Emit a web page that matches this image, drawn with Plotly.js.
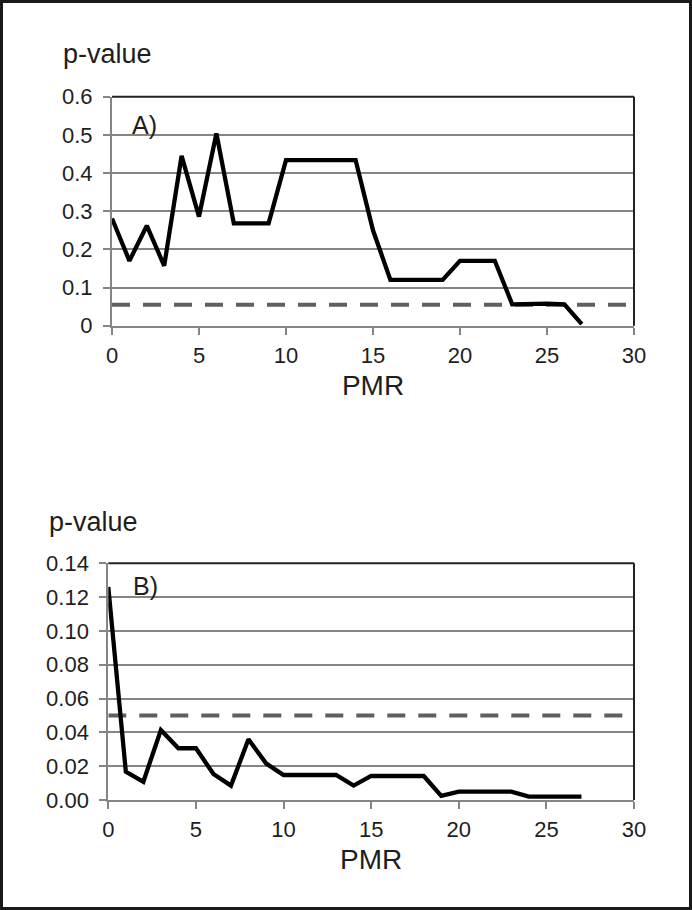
<!DOCTYPE html>
<html>
<head>
<meta charset="utf-8">
<script src="https://cdn.plot.ly/plotly-3.0.1.min.js"></script>
<style>
  html, body { margin: 0; padding: 0; background: #fff; }
  #wrap { position: relative; width: 692px; height: 910px; }
  #chart { width: 692px; height: 910px; }
  #frame { position: absolute; left: 0; top: 0; width: 692px; height: 910px;
           box-sizing: border-box; border: 3px solid #1a1a1a; pointer-events: none; }
</style>
</head>
<body>
<div id="wrap">
  <div id="chart"></div>
  <div id="frame"></div>
</div>
<script>
// ---- Data ----
const pmr = [0,1,2,3,4,5,6,7,8,9,10,11,12,13,14,15,16,17,18,19,20,21,22,23,24,25,26,27];
const pValueA = [0.281,0.170,0.262,0.157,0.445,0.286,0.504,0.268,0.268,0.268,0.434,0.434,0.434,0.434,0.434,0.250,0.120,0.120,0.120,0.120,0.170,0.170,0.170,0.056,0.058,0.058,0.056,0.004];
const pValueB = [0.126,0.0168,0.0108,0.0414,0.0306,0.0306,0.0154,0.0085,0.0359,0.0217,0.0148,0.0148,0.0148,0.0148,0.0085,0.0142,0.0142,0.0142,0.0142,0.0024,0.0049,0.0049,0.0049,0.0049,0.002,0.002,0.002,0.002];
const thresholdAX = [0, 29.7];
const thresholdAY = [0.055, 0.055];
const thresholdBX = [0, 29.4];
const thresholdBY = [0.05, 0.05];
const yTitle = "p-value";
const xTitle = "PMR";
const panelLabels = ["A)", "B)"];

// ---- Layout geometry (pixels) ----
const W = 692, H = 910;
const px = v => v / W;
const py = v => 1 - v / H;

const FONT = "Liberation Sans, Arial, sans-serif";
const TXT = "#1e1e1e";
const GRID = "#858585";

const traces = [
  { x: thresholdAX, y: thresholdAY, xaxis: "x", yaxis: "y", mode: "lines",
    line: { color: "#5f5f5f", width: 4, dash: "18px,13px" }, hoverinfo: "skip" },
  { x: pmr, y: pValueA, xaxis: "x", yaxis: "y", mode: "lines",
    line: { color: "#000", width: 4.3 } },
  { x: thresholdBX, y: thresholdBY, xaxis: "x2", yaxis: "y2", mode: "lines",
    line: { color: "#5f5f5f", width: 4, dash: "18px,13px" }, hoverinfo: "skip" },
  { x: pmr, y: pValueB, xaxis: "x2", yaxis: "y2", mode: "lines",
    line: { color: "#000", width: 4.3 } }
];

function xAxis(domain, anchor) {
  return {
    domain: domain, anchor: anchor, range: [0, 30], dtick: 5, tick0: 0,
    showgrid: false, zeroline: false,
    showline: true, linecolor: GRID, linewidth: 2,
    ticks: "outside", ticklen: 7, tickwidth: 2, tickcolor: GRID,
    ticklabelstandoff: 2,
    tickfont: { family: FONT, size: 22, color: TXT },
    title: { text: xTitle, font: { family: FONT, size: 28, color: TXT }, standoff: 8 },
    fixedrange: true
  };
}
function yAxis(domain, anchor, range, dtick, fmt) {
  return {
    domain: domain, anchor: anchor, range: range, dtick: dtick, tick0: 0,
    tickformat: fmt,
    showgrid: true, gridcolor: GRID, gridwidth: 2,
    zeroline: false,
    showline: true, linecolor: GRID, linewidth: 2,
    ticks: "outside", ticklen: 7, tickwidth: 2, tickcolor: GRID,
    ticklabelstandoff: 6,
    tickfont: { family: FONT, size: 22, color: TXT },
    fixedrange: true
  };
}

const layout = {
  width: W, height: H,
  margin: { l: 0, r: 0, t: 0, b: 0 },
  paper_bgcolor: "#fff", plot_bgcolor: "#fff",
  showlegend: false,
  font: { family: FONT, color: TXT },
  xaxis: xAxis([px(112), px(634)], "y"),
  yaxis: yAxis([py(325.7), py(96.7)], "x", [0, 0.6], 0.1, ""),
  xaxis2: xAxis([px(108.3), px(634)], "y2"),
  yaxis2: yAxis([py(800), py(563.3)], "x2", [0, 0.14], 0.02, ".2f"),
  shapes: [
    // dark top and right frame of each plot area
    { type: "line", xref: "x domain", yref: "y domain", x0: 0, x1: 1, y0: 1, y1: 1, line: { color: "#222", width: 2 } },
    { type: "line", xref: "x domain", yref: "y domain", x0: 1, x1: 1, y0: 0, y1: 1, line: { color: "#222", width: 2 } },
    { type: "line", xref: "x2 domain", yref: "y2 domain", x0: 0, x1: 1, y0: 1, y1: 1, line: { color: "#222", width: 2 } },
    { type: "line", xref: "x2 domain", yref: "y2 domain", x0: 1, x1: 1, y0: 0, y1: 1, line: { color: "#222", width: 2 } }
  ],
  annotations: [
    { text: yTitle, xref: "paper", yref: "paper", x: px(61), y: py(54), xanchor: "left", yanchor: "middle",
      showarrow: false, font: { family: FONT, size: 27, color: TXT } },
    { text: yTitle, xref: "paper", yref: "paper", x: px(47), y: py(522), xanchor: "left", yanchor: "middle",
      showarrow: false, font: { family: FONT, size: 27, color: TXT } },
    { text: panelLabels[0], xref: "x domain", yref: "y domain", x: 0.063, y: 0.876, xanchor: "center", yanchor: "middle",
      showarrow: false, font: { family: FONT, size: 25, color: TXT } },
    { text: panelLabels[1], xref: "x2 domain", yref: "y2 domain", x: 0.070, y: 0.904, xanchor: "center", yanchor: "middle",
      showarrow: false, font: { family: FONT, size: 25, color: TXT } }
  ]
};

Plotly.newPlot("chart", traces, layout, { displayModeBar: false, staticPlot: true });
</script>
</body>
</html>
